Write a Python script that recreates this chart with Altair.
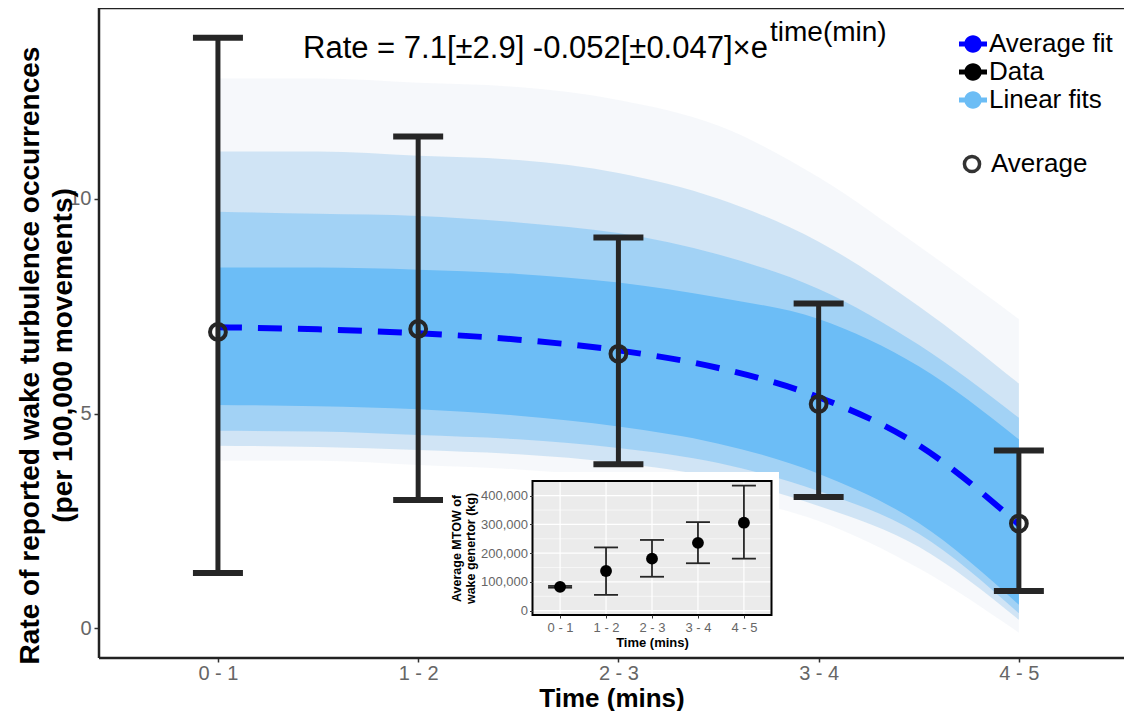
import json
import altair as alt
import pandas as pd

# ---------------- data ----------------
categories = ["0 - 1", "1 - 2", "2 - 3", "3 - 4", "4 - 5"]
cat_mid = [0.5, 1.5, 2.5, 3.5, 4.5]
rate_avg = [6.90, 6.97, 6.39, 5.22, 2.44]
rate_lo = [1.29, 2.99, 3.82, 3.06, 0.87]
rate_hi = [13.75, 11.45, 9.10, 7.56, 4.14]

fit_t = [0.5, 1.0, 1.5, 2.0, 2.5, 3.0, 3.5, 4.0, 4.5]
fit_avg = [7.01, 6.96, 6.87, 6.72, 6.47, 6.06, 5.38, 4.26, 2.42]

# envelope of the many linear fits, read from outer (faint) to inner (dense)
fits_outer_lo = [3.90, 3.90, 3.80, 3.70, 3.50, 3.10, 2.50, 1.40, -0.10]
fits_outer_hi = [12.8, 12.8, 12.7, 12.6, 12.3, 11.7, 10.5, 8.90, 7.20]
fits_wide_lo = [4.25, 4.22, 4.15, 4.05, 3.85, 3.50, 2.85, 1.90, 0.20]
fits_wide_hi = [11.1, 11.1, 11.0, 10.9, 10.6, 10.0, 9.00, 7.50, 5.70]
fits_mid_lo = [4.60, 4.58, 4.50, 4.40, 4.20, 3.85, 3.20, 2.20, 0.35]
fits_mid_hi = [9.70, 9.65, 9.60, 9.45, 9.20, 8.70, 7.90, 6.60, 4.90]
fits_core_lo = [5.20, 5.17, 5.10, 4.95, 4.70, 4.30, 3.60, 2.45, 0.55]
fits_core_hi = [8.40, 8.40, 8.35, 8.25, 8.05, 7.70, 7.20, 6.10, 4.40]

y_major = [0, 5, 10]
y_minor = [2.5, 7.5, 12.5]

series_names = ["Average fit", "Data", "Linear fits"]
series_colors = ["#0000FF", "#000000", "#6CBDF5"]
avg_label = "Average"

eq_main = "Rate = 7.1[\u00b12.9] -0.052[\u00b10.047]\u00d7e"
eq_sup = "time(min)"

# inset
inset_pos = [0, 1, 2, 3, 4]
mtow_avg = [83000, 138000, 181000, 236000, 306000]
mtow_lo = [80000, 55000, 118000, 165000, 181000]
mtow_hi = [86000, 220000, 246000, 308000, 435000]
mtow_major = [0, 100000, 200000, 300000, 400000]
mtow_minor = [50000, 150000, 250000, 350000]

# ---------------- layout ----------------
W, H = 1025, 650
FONT = "Liberation Sans"
one = pd.DataFrame({"k": [0]})

xs = alt.Scale(domain=[-0.094, 5.025], nice=False, zero=False)
ys = alt.Scale(domain=[-0.69, 14.44], nice=False, zero=False)

x_axis = alt.Axis(values=cat_mid, labelExpr=f"{json.dumps(categories)}[floor(datum.value)]",
                  title="Time (mins)", grid=False, domain=False, tickColor="#333333",
                  tickSize=4, tickWidth=1.5, labelFont=FONT, labelFontSize=20,
                  labelColor="#666666", labelPadding=1, titleFont=FONT, titleFontSize=26,
                  titleFontWeight="bold", titleColor="black", titlePadding=2)
y_axis = alt.Axis(values=y_major, title=["Rate of reported wake turbulence occurrences",
                                         "(per 100,000 movements)"],
                  grid=False, domain=False, tickColor="#333333", tickSize=5, tickWidth=1.5,
                  labelFont=FONT, labelFontSize=20, labelColor="#666666", labelPadding=3,
                  titleFont=FONT, titleFontSize=28, titleFontWeight="bold", titleColor="black",
                  titleLineHeight=33, titleAngle=270, titleBaseline="bottom", titleAlign="center",
                  titleX=-55, titleY=H / 2 + 22)


def X(f):
    return alt.X(f, type="quantitative", scale=xs, axis=x_axis)


def Y(f):
    return alt.Y(f, type="quantitative", scale=ys, axis=y_axis)


grid_major = alt.Chart(pd.DataFrame({"v": y_major})).mark_rule(color="white", strokeWidth=1.6).encode(y=Y("v"))
grid_minor = alt.Chart(pd.DataFrame({"v": y_minor})).mark_rule(color="white", strokeWidth=0.8).encode(y=Y("v"))
grid_x = alt.Chart(pd.DataFrame({"v": cat_mid})).mark_rule(color="white", strokeWidth=1.6).encode(x=X("v"))

fits_df = pd.DataFrame({
    "t": fit_t, "avg": fit_avg,
    "o_lo": fits_outer_lo, "o_hi": fits_outer_hi,
    "w_lo": fits_wide_lo, "w_hi": fits_wide_hi,
    "m_lo": fits_mid_lo, "m_hi": fits_mid_hi,
    "c_lo": fits_core_lo, "c_hi": fits_core_hi,
})
band_specs = [("o", "#F3F6FA", 0.75), ("w", "#C9E0F3", 0.85), ("m", "#9CCFF5", 0.9), ("c", "#6CBDF6", 1.0)]
bands = [
    alt.Chart(fits_df).mark_area(color=c, opacity=op, interpolate="monotone").encode(
        x=X("t"), y=Y(f"{k}_lo"), y2=alt.Y2(f"{k}_hi"))
    for k, c, op in band_specs
]

avg_line = alt.Chart(fits_df).mark_line(color="#0000FF", strokeWidth=6, strokeDash=[24, 16],
                                        interpolate="monotone").encode(x=X("t"), y=Y("avg"))

data_df = pd.DataFrame({"x": cat_mid, "avg": rate_avg, "lo": rate_lo, "hi": rate_hi,
                        "lab": [avg_label] * len(cat_mid)})
caps_df = pd.DataFrame({"x": cat_mid + cat_mid, "v": rate_lo + rate_hi})

err = alt.Chart(data_df).mark_rule(color="#262626", strokeWidth=5, opacity=1).encode(
    x=X("x"), y=Y("lo"), y2=alt.Y2("hi"))
caps = alt.Chart(caps_df).mark_tick(color="#262626", thickness=6, size=50, orient="horizontal",
                                    opacity=1).encode(x=X("x"), y=Y("v"))

LEG_SYMBOL = "M-0.62,0A0.62,0.62,0,1,1,0.62,0A0.62,0.62,0,1,1,-0.62,0Z M-1,-0.17H1V0.17H-1Z"

pts = alt.Chart(data_df).mark_point(filled=False, size=250, strokeWidth=4, color="#262626", opacity=1).encode(
    x=X("x"), y=Y("avg"),
    shape=alt.Shape("lab:N", scale=alt.Scale(domain=[avg_label], range=["circle"]),
                    legend=alt.Legend(orient="none", legendX=853, legendY=136, title=None,
                                      symbolSize=230, symbolStrokeWidth=3.5, symbolStrokeColor="#333333",
                                      labelFont=FONT, labelFontSize=26, labelColor="black",
                                      fillColor="white", padding=7, labelOffset=6)))

legend_layer = alt.Chart(pd.DataFrame({"series": series_names})).mark_point(filled=True, opacity=0).encode(
    x=alt.value(0), y=alt.value(0),
    color=alt.Color("series:N", scale=alt.Scale(domain=series_names, range=series_colors),
                    legend=alt.Legend(orient="none", legendX=853, legendY=15, title=None,
                                      symbolType=LEG_SYMBOL, symbolSize=784, symbolOpacity=1,
                                      symbolStrokeWidth=0, labelFont=FONT, labelFontSize=26,
                                      labelColor="black", fillColor="white", padding=7,
                                      rowPadding=1, labelOffset=2)))

eq1 = alt.Chart(pd.DataFrame({"t": [eq_main]})).mark_text(
    align="left", baseline="alphabetic", font=FONT, fontSize=31, color="black").encode(
    x=alt.value(204), y=alt.value(50), text="t:N")
eq2 = alt.Chart(pd.DataFrame({"t": [eq_sup]})).mark_text(
    align="left", baseline="alphabetic", font=FONT, fontSize=28, color="black").encode(
    x=alt.value(671), y=alt.value(33), text="t:N")

main = alt.layer(grid_minor, grid_major, grid_x, *bands, avg_line, err, caps, pts, legend_layer, eq1, eq2)

# ---------------- inset ----------------
IX0, IX1, IY0, IY1 = 433.5, 672.5, H - 177, H - 43
ixs = alt.Scale(domain=[-0.6, 4.6], range=[IX0, IX1], nice=False, zero=False)
iys = alt.Scale(domain=[-15000, 451000], range=[IY1, IY0], nice=False, zero=False)
ix_axis = alt.Axis(orient="bottom", offset=IY1 - H, values=inset_pos, zindex=5,
                   labelExpr=f"{json.dumps(categories)}[datum.value]", grid=False, domain=False,
                   tickSize=3, tickColor="#333333", labelFont=FONT, labelFontSize=13,
                   labelColor="#666666", labelPadding=3, title="Time (mins)", titleFont=FONT,
                   titleFontSize=13, titleFontWeight="bold", titleColor="black", titlePadding=2)
iy_axis = alt.Axis(orient="left", offset=-IX0, values=mtow_major, labelExpr="format(datum.value, ',')",
                   grid=False, domain=False, zindex=5, tickSize=3, tickColor="#333333",
                   labelFont=FONT, labelFontSize=13, labelColor="#666666", labelPadding=2,
                   title=["Average MTOW of", "wake genertor (kg)"], titleFont=FONT, titleFontSize=12.5,
                   titleFontWeight="bold", titleColor="black", titleLineHeight=14, titlePadding=3)


def IX(f):
    return alt.X(f, type="quantitative", scale=ixs, axis=ix_axis)


def IY(f):
    return alt.Y(f, type="quantitative", scale=iys, axis=iy_axis)


white_box = alt.Chart(one).mark_rect(color="white").encode(
    x=alt.value(344), x2=alt.value(680), y=alt.value(H - 186), y2=alt.value(H))
panel = alt.Chart(one).mark_rect(color="#EBEBEB").encode(
    x=alt.value(IX0), x2=alt.value(IX1), y=alt.value(IY0), y2=alt.value(IY1))
ig_minor = alt.Chart(pd.DataFrame({"v": mtow_minor})).mark_rule(color="white", strokeWidth=0.6).encode(
    y=IY("v"), x=alt.value(IX0), x2=alt.value(IX1))
ig_major = alt.Chart(pd.DataFrame({"v": mtow_major})).mark_rule(color="white", strokeWidth=1.2).encode(
    y=IY("v"), x=alt.value(IX0), x2=alt.value(IX1))
ig_x = alt.Chart(pd.DataFrame({"v": inset_pos})).mark_rule(color="white", strokeWidth=1.2).encode(
    x=IX("v"), y=alt.value(IY0), y2=alt.value(IY1))

idf = pd.DataFrame({"x": inset_pos, "avg": mtow_avg, "lo": mtow_lo, "hi": mtow_hi})
icaps_df = pd.DataFrame({"x": inset_pos + inset_pos, "v": mtow_lo + mtow_hi})
ierr = alt.Chart(idf).mark_rule(color="#262626", strokeWidth=1.8).encode(x=IX("x"), y=IY("lo"), y2=alt.Y2("hi"))
icaps = alt.Chart(icaps_df).mark_tick(color="#262626", thickness=1.8, size=24, orient="horizontal",
                                      opacity=1).encode(x=IX("x"), y=IY("v"))
ipts = alt.Chart(idf).mark_circle(color="black", size=140, opacity=1).encode(x=IX("x"), y=IY("avg"))
iborder = alt.Chart(one).mark_rect(fill="transparent", stroke="black", strokeWidth=2).encode(
    x=alt.value(IX0), x2=alt.value(IX1), y=alt.value(IY0), y2=alt.value(IY1))

BC = "#222222"
b_left = alt.Chart(one).mark_rule(color=BC, strokeWidth=2.5).encode(x=alt.value(0), y=alt.value(0), y2=alt.value(H))
b_top = alt.Chart(one).mark_rule(color=BC, strokeWidth=2.5).encode(x=alt.value(0), x2=alt.value(W), y=alt.value(0))
b_bot = alt.Chart(one).mark_rule(color=BC, strokeWidth=2.5).encode(x=alt.value(0), x2=alt.value(W), y=alt.value(H))

inset = alt.layer(white_box, panel, ig_minor, ig_major, ig_x, ierr, icaps, ipts, iborder, b_left, b_top, b_bot)

chart = alt.layer(main, inset).resolve_scale(x="independent", y="independent").properties(
    width=W, height=H,
    padding={"left": 91, "top": 0, "right": 0, "bottom": 53},
    autosize=alt.AutoSizeParams(type="none"),
).configure_view(fill="#EBEBEB", stroke="transparent").configure(background="white")

chart.save("out.html", embed_options={"renderer": "svg", "actions": False})
